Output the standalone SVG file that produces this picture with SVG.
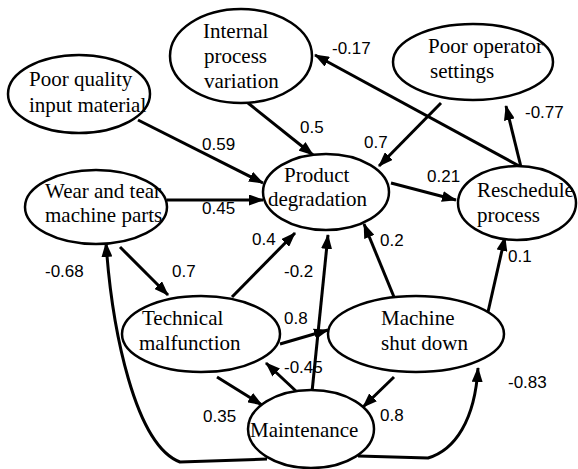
<svg xmlns="http://www.w3.org/2000/svg" width="578" height="469" viewBox="0 0 578 469">
<defs>
<marker id="ah" markerUnits="userSpaceOnUse" markerWidth="15" markerHeight="11" refX="14" refY="5.5" orient="auto">
<path d="M0,0 L15,5.5 L0,11 z" fill="#000"/>
</marker>
</defs>
<rect width="578" height="469" fill="#fff"/>
<g id="connectors" fill="none" stroke="#000" stroke-width="3" marker-end="url(#ah)">
<path d="M138,120 L263,183" marker-end="url(#ah)"/>
<path d="M167,200 L263,200" marker-end="url(#ah)"/>
<path d="M248,103 L313,155" marker-end="url(#ah)"/>
<path d="M441,103 L379,166" marker-end="url(#ah)"/>
<path d="M391,183 L456,200" marker-end="url(#ah)"/>
<path d="M521,167 L315,55" marker-end="url(#ah)"/>
<path d="M521,167 L506,106" marker-end="url(#ah)"/>
<path d="M120,247 L168,295" marker-end="url(#ah)"/>
<path d="M232,297 L295,233" marker-end="url(#ah)"/>
<path d="M312,392 L328,235" marker-end="url(#ah)"/>
<path d="M280,344 L328,330" marker-end="url(#ah)"/>
<path d="M394,297 L364,224" marker-end="url(#ah)"/>
<path d="M488,312 L505,237" marker-end="url(#ah)"/>
<path d="M297,392 L266,363" marker-end="url(#ah)"/>
<path d="M217,377 L262,405" marker-end="url(#ah)"/>
<path d="M394,377 L363,407" marker-end="url(#ah)"/>
<path d="M267,459 L180,462 C135,445 112,330 106,243" marker-end="url(#ah)"/>
<path d="M358,456 L428,458 C455,450 475,420 478,368" marker-end="url(#ah)"/>
</g>
<g id="n-internal">
<ellipse cx="241" cy="56" rx="71" ry="47" fill="#fff" stroke="#000" stroke-width="2.5"/>
<text x="203" y="38" font-family="'Liberation Serif', serif" font-size="21">Internal</text>
<text x="204" y="63" font-family="'Liberation Serif', serif" font-size="21">process</text>
<text x="204" y="88" font-family="'Liberation Serif', serif" font-size="21">variation</text>
</g>
<g id="n-poorquality">
<ellipse cx="79" cy="94" rx="71" ry="39" fill="#fff" stroke="#000" stroke-width="2.5"/>
<text x="29" y="86" font-family="'Liberation Serif', serif" font-size="21">Poor quality</text>
<text x="29" y="112" font-family="'Liberation Serif', serif" font-size="21">input material</text>
</g>
<g id="n-wear">
<ellipse cx="96" cy="207" rx="71" ry="37" fill="#fff" stroke="#000" stroke-width="2.5"/>
<text x="45" y="198" font-family="'Liberation Serif', serif" font-size="21">Wear and tear</text>
<text x="45" y="222" font-family="'Liberation Serif', serif" font-size="21">machine parts</text>
</g>
<g id="n-product">
<ellipse cx="326" cy="192" rx="63" ry="38" fill="#fff" stroke="#000" stroke-width="2.5"/>
<text x="284" y="182" font-family="'Liberation Serif', serif" font-size="21">Product</text>
<text x="268" y="206" font-family="'Liberation Serif', serif" font-size="21">degradation</text>
</g>
<g id="n-operator">
<ellipse cx="473" cy="62" rx="80" ry="38" fill="#fff" stroke="#000" stroke-width="2.5"/>
<text x="428" y="53" font-family="'Liberation Serif', serif" font-size="21">Poor operator</text>
<text x="430" y="78" font-family="'Liberation Serif', serif" font-size="21">settings</text>
</g>
<g id="n-reschedule">
<ellipse cx="517" cy="203" rx="59" ry="37" fill="#fff" stroke="#000" stroke-width="2.5"/>
<text x="477" y="197" font-family="'Liberation Serif', serif" font-size="21">Reschedule</text>
<text x="477" y="222" font-family="'Liberation Serif', serif" font-size="21">process</text>
</g>
<g id="n-technical">
<ellipse cx="201" cy="334" rx="79" ry="38" fill="#fff" stroke="#000" stroke-width="2.5"/>
<text x="142" y="325" font-family="'Liberation Serif', serif" font-size="21">Technical</text>
<text x="139" y="350" font-family="'Liberation Serif', serif" font-size="21">malfunction</text>
</g>
<g id="n-machine">
<ellipse cx="416" cy="334" rx="88" ry="38" fill="#fff" stroke="#000" stroke-width="2.5"/>
<text x="381" y="325" font-family="'Liberation Serif', serif" font-size="21">Machine</text>
<text x="381" y="350" font-family="'Liberation Serif', serif" font-size="21">shut down</text>
</g>
<g id="n-maintenance">
<ellipse cx="311" cy="429" rx="63" ry="39" fill="#fff" stroke="#000" stroke-width="2.5"/>
<text x="250" y="437" font-family="'Liberation Serif', serif" font-size="21">Maintenance</text>
</g>
<g id="labels">
<text x="202" y="150" font-family="'Liberation Sans', sans-serif" font-size="17">0.59</text>
<text x="202" y="214" font-family="'Liberation Sans', sans-serif" font-size="17">0.45</text>
<text x="252" y="245" font-family="'Liberation Sans', sans-serif" font-size="17">0.4</text>
<text x="300" y="133" font-family="'Liberation Sans', sans-serif" font-size="17">0.5</text>
<text x="364" y="148" font-family="'Liberation Sans', sans-serif" font-size="17">0.7</text>
<text x="427" y="182" font-family="'Liberation Sans', sans-serif" font-size="17">0.21</text>
<text x="332" y="54" font-family="'Liberation Sans', sans-serif" font-size="17">-0.17</text>
<text x="525" y="118" font-family="'Liberation Sans', sans-serif" font-size="17">-0.77</text>
<text x="380" y="246" font-family="'Liberation Sans', sans-serif" font-size="17">0.2</text>
<text x="508" y="262" font-family="'Liberation Sans', sans-serif" font-size="17">0.1</text>
<text x="284" y="277" font-family="'Liberation Sans', sans-serif" font-size="17">-0.2</text>
<text x="284" y="324" font-family="'Liberation Sans', sans-serif" font-size="17">0.8</text>
<text x="284" y="373" font-family="'Liberation Sans', sans-serif" font-size="17">-0.45</text>
<text x="45" y="277" font-family="'Liberation Sans', sans-serif" font-size="17">-0.68</text>
<text x="172" y="277" font-family="'Liberation Sans', sans-serif" font-size="17">0.7</text>
<text x="203" y="422" font-family="'Liberation Sans', sans-serif" font-size="17">0.35</text>
<text x="380" y="421" font-family="'Liberation Sans', sans-serif" font-size="17">0.8</text>
<text x="508" y="388" font-family="'Liberation Sans', sans-serif" font-size="17">-0.83</text>
</g>
</svg>
